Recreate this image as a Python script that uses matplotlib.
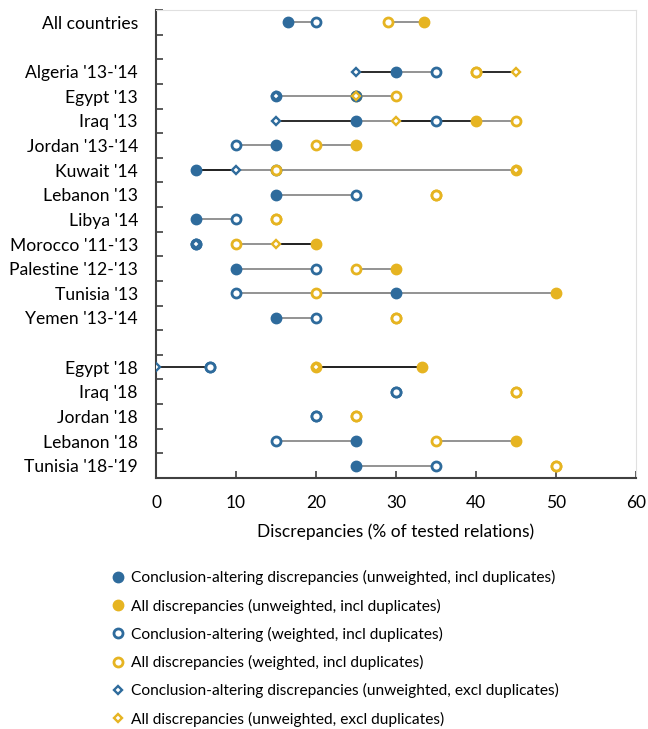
import numpy as np
import matplotlib.pyplot as plt
from matplotlib.lines import Line2D

plt.rcParams['font.family'] = ['Lato', 'DejaVu Sans']

nan = np.nan

# rows from top to bottom; None marks an empty slot
rows = ["All countries", None,
        "Algeria '13-'14", "Egypt '13", "Iraq '13", "Jordan '13-'14", "Kuwait '14",
        "Lebanon '13", "Libya '14", "Morocco '11-'13", "Palestine '12-'13",
        "Tunisia '13", "Yemen '13-'14", None,
        "Egypt '18", "Iraq '18", "Jordan '18", "Lebanon '18", "Tunisia '18-'19"]

# values per row (nan for empty slots / missing)
ca_unw_incl = [16.5, nan, 30, 15, 25, 15, 5, 15, 5, 5, 10, 30, 15, nan, 6.7, 30, 20, 25, 25]
all_unw_incl = [33.5, nan, 40, 25, 40, 25, 45, 35, 15, 20, 30, 50, 30, nan, 33.3, 45, 25, 45, 50]
ca_w_incl = [20, nan, 35, 25, 35, 10, 15, 25, 10, 5, 20, 10, 20, nan, 6.7, 30, 20, 15, 35]
all_w_incl = [29, nan, 40, 30, 45, 20, 15, 35, 15, 10, 25, 20, 30, nan, 20, 45, 25, 35, 50]
ca_unw_excl = [nan, nan, 25, 15, 15, nan, 10, nan, nan, 5, nan, nan, nan, nan, 0, nan, nan, nan, nan]
all_unw_excl = [nan, nan, 45, 25, 30, nan, 45, nan, nan, 15, nan, nan, nan, nan, 20, nan, nan, nan, nan]

legend_labels = ["Conclusion-altering discrepancies (unweighted, incl duplicates)",
                 "All discrepancies (unweighted, incl duplicates)",
                 "Conclusion-altering (weighted, incl duplicates)",
                 "All discrepancies (weighted, incl duplicates)",
                 "Conclusion-altering discrepancies (unweighted, excl duplicates)",
                 "All discrepancies (unweighted, excl duplicates)"]

blue = '#2E6B9C'
gold = '#E6B421'

fig = plt.figure(figsize=(6.48, 7.29), dpi=100)
ax = fig.add_axes([156/648, 1 - 478/729, 480/648, 468/729])

y = np.arange(len(rows))

# connecting lines: filled -> open in gray, filled -> excl in black
for filled, opn, excl in [(ca_unw_incl, ca_w_incl, ca_unw_excl),
                          (all_unw_incl, all_w_incl, all_unw_excl)]:
    for i in range(len(rows)):
        if not np.isnan(filled[i]) and not np.isnan(opn[i]):
            ax.plot([filled[i], opn[i]], [i, i], color='#8a8a8a', lw=1.3, zorder=1)
    for i in range(len(rows)):
        if not np.isnan(filled[i]) and not np.isnan(excl[i]):
            ax.plot([filled[i], excl[i]], [i, i], color='#1a1a1a', lw=1.3, zorder=2)

ax.plot(ca_unw_incl, y, 'o', ms=7.5, color=blue, mec=blue, zorder=3)
ax.plot(all_unw_incl, y, 'o', ms=7.5, color=gold, mec=gold, zorder=4)
ax.plot(ca_w_incl, y, 'o', ms=6.5, mfc='white', mec=blue, mew=2, zorder=5)
ax.plot(all_w_incl, y, 'o', ms=6.5, mfc='white', mec=gold, mew=2, zorder=6)
ax.plot(ca_unw_excl, y, 'D', ms=4.2, mfc='white', mec=blue, mew=1.7, zorder=7)
ax.plot(all_unw_excl, y, 'D', ms=4.2, mfc='white', mec=gold, mew=1.7, zorder=8)

ax.set_xlim(0, 60)
ax.set_ylim(len(rows) - 0.5, -0.5)
ax.set_xticks(range(0, 61, 10))
ax.set_yticks(np.arange(-0.5, len(rows) + 0.5, 1))
ax.set_yticklabels([])
ax.set_yticks(y, minor=True)
ax.set_yticklabels([r if r else '' for r in rows], minor=True)
ax.tick_params(axis='y', which='minor', length=0, pad=13, labelsize=12.6)
ax.tick_params(axis='y', which='major', direction='in', length=5, width=1.2, color='#404040')
ax.tick_params(axis='x', direction='in', length=5, width=1.2, color='#404040', labelsize=12.5, pad=12)
for s in ['top', 'right']:
    ax.spines[s].set_color('#e0e0e0')
for s in ['left', 'bottom']:
    ax.spines[s].set_color('#404040')
    ax.spines[s].set_linewidth(1.5)
ax.set_xlabel("Discrepancies (% of tested relations)", fontsize=12.5, labelpad=9)

handles = [Line2D([], [], ls='', marker='o', ms=7.5, color=blue),
           Line2D([], [], ls='', marker='o', ms=7.5, color=gold),
           Line2D([], [], ls='', marker='o', ms=6.5, mfc='white', mec=blue, mew=2),
           Line2D([], [], ls='', marker='o', ms=6.5, mfc='white', mec=gold, mew=2),
           Line2D([], [], ls='', marker='D', ms=4.2, mfc='white', mec=blue, mew=1.7),
           Line2D([], [], ls='', marker='D', ms=4.2, mfc='white', mec=gold, mew=1.7)]
fig.legend(handles, legend_labels, loc='upper left', bbox_to_anchor=(106/648, 1 - 564/729),
           frameon=False, fontsize=11.2, handlelength=0.8, handletextpad=0.4,
           labelspacing=0.85, borderaxespad=0)

plt.savefig("out.png", dpi=100)
